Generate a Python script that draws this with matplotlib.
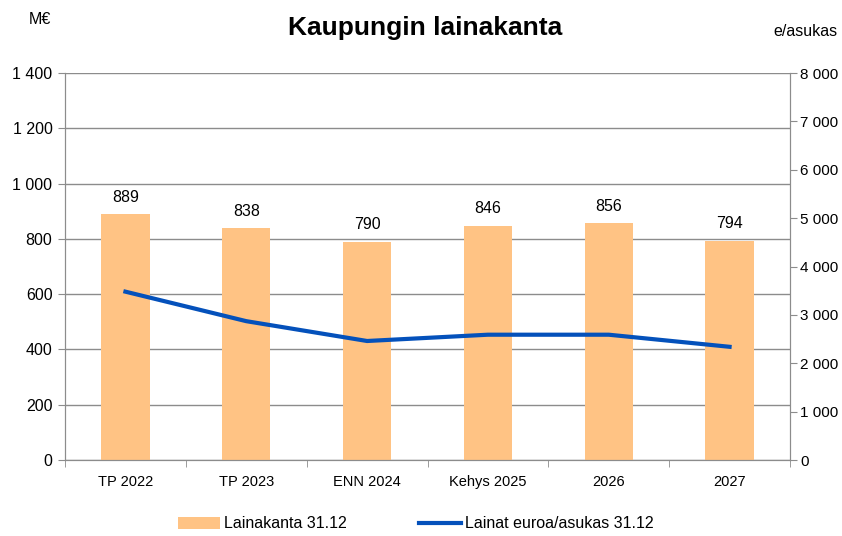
import matplotlib.pyplot as plt
import numpy as np
from matplotlib.ticker import FuncFormatter

plt.rcParams['font.family'] = ['Liberation Sans', 'DejaVu Sans']

categories = ['TP 2022', 'TP 2023', 'ENN 2024', 'Kehys 2025', '2026', '2027']
lainakanta = [889, 838, 790, 846, 856, 794]
per_asukas = [3480, 2870, 2460, 2590, 2590, 2340]

def fi_fmt(v, pos):
    return f'{int(v):,}'.replace(',', ' ')

fig = plt.figure(figsize=(8.42, 5.36), dpi=100)
ax = fig.add_axes([65/842, 1 - 460/536, 725/842, 387/536])
ax2 = ax.twinx()

x = np.arange(len(categories))
bars = ax.bar(x, lainakanta, width=0.4, color='#FFC384', zorder=2, label='Lainakanta 31.12')
for xi, v in zip(x, lainakanta):
    ax.text(xi, v + 35, str(v), ha='center', va='bottom', fontsize=11.5)

line, = ax2.plot(x, per_asukas, color='#0451BB', lw=3, zorder=3, label='Lainat euroa/asukas 31.12')

ax.set_xlim(-0.5, len(categories) - 0.5)
ax.set_ylim(0, 1400)
ax.set_yticks(np.arange(0, 1401, 200))
ax2.set_ylim(0, 8000)
ax2.set_yticks(np.arange(0, 8001, 1000))
ax.yaxis.set_major_formatter(FuncFormatter(fi_fmt))
ax2.yaxis.set_major_formatter(FuncFormatter(fi_fmt))
ax.grid(axis='y', color='#8c8c8c', lw=1, zorder=0)
ax.set_axisbelow(True)

ax.set_xticks(x)
ax.set_xticklabels(categories)
ax.set_xticks(np.arange(-0.5, len(categories)), minor=True)
ax.tick_params(axis='x', which='major', length=0, pad=11, labelsize=10.5)
ax.tick_params(axis='x', which='minor', length=5, color='#8c8c8c')
ax.tick_params(axis='y', length=5, color='#8c8c8c', labelsize=11.5, pad=4)
ax2.tick_params(axis='y', length=5, color='#8c8c8c', labelsize=11, pad=2.5)

for a in (ax, ax2):
    a.spines['top'].set_visible(False)
    for s in ('left', 'right', 'bottom'):
        a.spines[s].set_color('#8c8c8c')
ax2.set_zorder(ax.get_zorder() + 1)
ax2.patch.set_visible(False)

fig.text(425/842, 1 - 28/536, 'Kaupungin lainakanta', ha='center', va='center',
         fontsize=19, fontweight='bold')
fig.text(40/842, 1 - 20/536, 'M€', ha='center', va='center', fontsize=11.5)
fig.text(805/842, 1 - 31/536, 'e/asukas', ha='center', va='center', fontsize=11.5)

fig.legend([bars, line], ['Lainakanta 31.12', 'Lainat euroa/asukas 31.12'],
           loc='center', bbox_to_anchor=(416/842, 1 - 524/536), ncol=2, frameon=False,
           fontsize=11.5, columnspacing=4.5, handlelength=2.6, handletextpad=0.3)

fig.savefig('out.png', dpi=100)
